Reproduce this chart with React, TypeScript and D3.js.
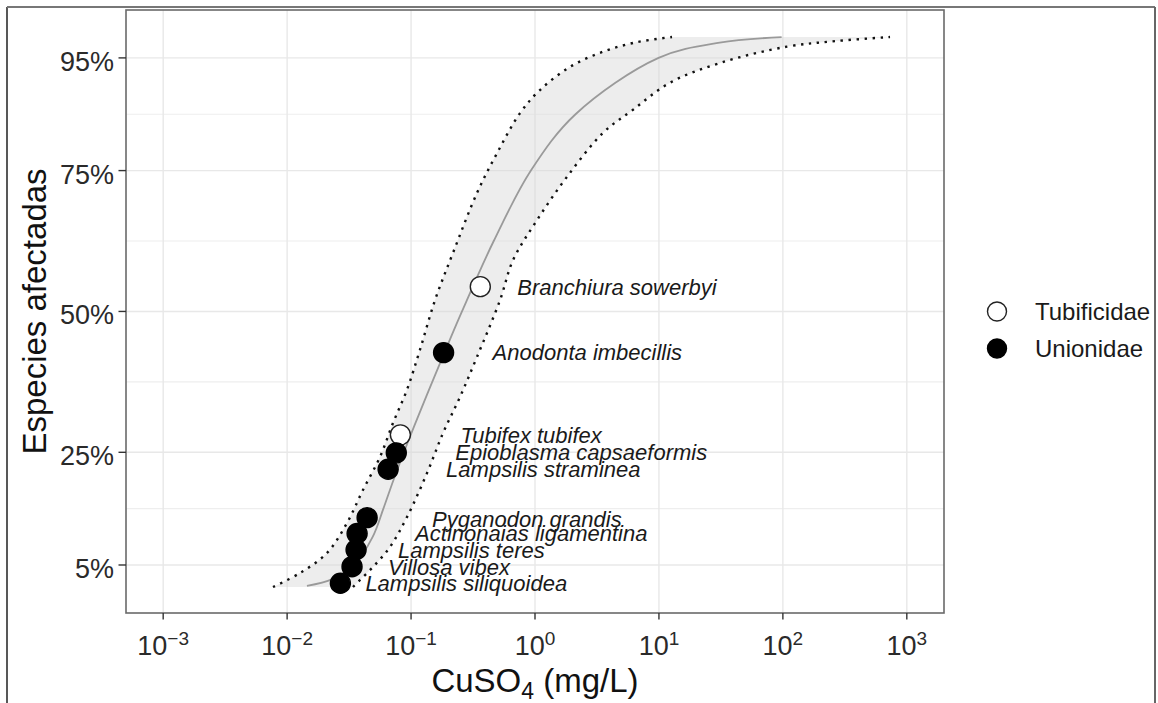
import * as d3 from "d3";

// species sensitivity points (mg/L CuSO4, % of species affected)
const species = [
  "Branchiura sowerbyi",
  "Anodonta imbecillis",
  "Tubifex tubifex",
  "Epioblasma capsaeformis",
  "Lampsilis straminea",
  "Pyganodon grandis",
  "Actinonaias ligamentina",
  "Lampsilis teres",
  "Villosa vibex",
  "Lampsilis siliquoidea",
];
const family = [
  "Tubificidae", "Unionidae", "Tubificidae", "Unionidae", "Unionidae",
  "Unionidae", "Unionidae", "Unionidae", "Unionidae", "Unionidae",
];
const conc = [0.362, 0.183, 0.082, 0.076, 0.0653, 0.0442, 0.0367, 0.036, 0.0334, 0.0269];
const affected = [54.4, 42.7, 28.1, 24.9, 22.0, 13.4, 10.6, 7.7, 4.7, 1.75];

// label nudges (px from the point, to the text baseline start)
const labelDx = [37, 49, 60, 59, 58, 65, 58, 42, 36, 25];
const labelDy = [8, 7, 8, 7, 8, 9, 8, 8, 8, 8];

// fitted curve
const fitConc = [0.01445, 0.02317, 0.03467, 0.049, 0.0598, 0.0719, 0.0875, 0.1076, 0.1483, 0.2058, 0.2576, 0.4645, 0.9268, 2.123, 9.93, 30.9, 97.7];
const fitPct = [1.3, 2.5, 5, 10, 15, 20, 25, 30, 37.5, 45, 50, 62.5, 75, 85, 95, 97.7, 98.7];

// confidence band, left (upper) edge
const ciUpConc = [0.00769, 0.0127, 0.02098, 0.0304, 0.0409, 0.0562, 0.0715, 0.0927, 0.118, 0.156, 0.218, 0.34, 0.494, 0.757, 1.097, 1.916, 3.54, 6.65, 12.75];
const ciUpPct = [1.09, 3.58, 7.13, 12.46, 18.3, 24.2, 30.2, 36.1, 43.2, 52.0, 60.4, 71.0, 78.1, 85.2, 89.3, 93.4, 96.1, 97.8, 98.7];

// confidence band, right (lower) edge
const ciLoConc = [0.034, 0.0387, 0.0493, 0.0676, 0.0927, 0.1345, 0.181, 0.248, 0.34, 0.522, 0.665, 1.038, 1.813, 3.54, 6.18, 12.28, 31.1, 108, 273, 732];
const ciLoPct = [1.09, 2.34, 4.64, 8.2, 13.5, 21.3, 28.4, 34.8, 41.9, 52.0, 59.1, 66.2, 73.9, 81.7, 85.8, 90.6, 94.1, 97.0, 98.0, 98.7];

const yTicks = [5, 25, 50, 75, 95];
const yMinor = [15, 37.5, 62.5, 85];
const xExponents = [-3, -2, -1, 0, 1, 2, 3];
const legendItems = ["Tubificidae", "Unionidae"];

const FONT = "'Liberation Sans', Arial, Helvetica, sans-serif";

export default function App() {
  const W = 1158;
  const H = 703;
  const left = 126, right = 944, top = 10, bottom = 613;

  const x = d3.scaleLog().domain([10 ** -3.3, 10 ** 3.3]).range([left, right]);
  const y = d3.scaleLinear().domain([-3.52, 103.5]).range([bottom, top]);

  const line = d3
    .line<[number, number]>()
    .x((d) => x(d[0]))
    .y((d) => y(d[1]))
    .curve(d3.curveCatmullRom.alpha(0.5));

  const fit = fitConc.map((c, i) => [c, fitPct[i]] as [number, number]);
  const ciUp = ciUpConc.map((c, i) => [c, ciUpPct[i]] as [number, number]);
  const ciLo = ciLoConc.map((c, i) => [c, ciLoPct[i]] as [number, number]);

  const bandPath =
    (line(ciUp) ?? "") +
    (line([...ciLo].reverse()) ?? "").replace(/^M/, "L") +
    "Z";

  const isOpen = (f: string) => f === "Tubificidae";

  return (
    <div style={{ position: "fixed", left: 0, top: 0 }}>
      <svg width={W} height={H} style={{ display: "block", background: "#fff" }} fontFamily={FONT}>
        {/* outer frame */}
        <line x1={7} y1={7} x2={7} y2={H} stroke="#111" strokeWidth={1.4} />
        <line x1={7} y1={7} x2={1155} y2={7} stroke="#777" strokeWidth={2} />
        <line x1={1155} y1={7} x2={1155} y2={H} stroke="#666" strokeWidth={2} />

        {/* grid */}
        <g>
          {yMinor.map((t) => (
            <line key={"ym" + t} x1={left} x2={right} y1={y(t)} y2={y(t)} stroke="#eeeeee" strokeWidth={1.1} />
          ))}
          {yTicks.map((t) => (
            <line key={"y" + t} x1={left} x2={right} y1={y(t)} y2={y(t)} stroke="#e8e8e8" strokeWidth={1.4} />
          ))}
          {xExponents.map((e) => (
            <line key={"x" + e} x1={x(10 ** e)} x2={x(10 ** e)} y1={top} y2={bottom} stroke="#e8e8e8" strokeWidth={1.4} />
          ))}
        </g>

        {/* confidence band */}
        <path d={bandPath} fill="#d6d6d6" fillOpacity={0.45} stroke="none" />
        <path d={line(ciUp) ?? ""} fill="none" stroke="#111" strokeWidth={2.4} strokeDasharray="2.4 5.6" />
        <path d={line(ciLo) ?? ""} fill="none" stroke="#111" strokeWidth={2.4} strokeDasharray="2.4 5.6" />

        {/* fitted curve */}
        <path d={line(fit) ?? ""} fill="none" stroke="#9a9a9a" strokeWidth={1.8} />

        {/* points */}
        {conc.map((c, i) => (
          <circle
            key={species[i]}
            cx={x(c)}
            cy={y(affected[i])}
            r={10}
            fill={isOpen(family[i]) ? "#fff" : "#000"}
            stroke={isOpen(family[i]) ? "#222" : "#000"}
            strokeWidth={1.4}
          />
        ))}

        {/* species labels */}
        {conc.map((c, i) => (
          <text
            key={"l" + species[i]}
            x={x(c) + labelDx[i]}
            y={y(affected[i]) + labelDy[i]}
            fontSize={22}
            fontStyle="italic"
            fill="#1a1a1a"
          >
            {species[i]}
          </text>
        ))}

        {/* panel border */}
        <rect x={left} y={top} width={right - left} height={bottom - top} fill="none" stroke="#6a6a6a" strokeWidth={1.6} />

        {/* y axis */}
        {yTicks.map((t) => (
          <g key={"yt" + t}>
            <line x1={left - 7.5} x2={left} y1={y(t)} y2={y(t)} stroke="#333" strokeWidth={1.4} />
            <text x={left - 12} y={y(t) + 13} textAnchor="end" fontSize={27} fill="#2a2a2a">
              {t}%
            </text>
          </g>
        ))}

        {/* x axis */}
        {xExponents.map((e) => (
          <g key={"xt" + e}>
            <line x1={x(10 ** e)} x2={x(10 ** e)} y1={bottom} y2={bottom + 6.5} stroke="#333" strokeWidth={1.4} />
            <text x={x(10 ** e)} y={655} textAnchor="middle" fontSize={27} fill="#2a2a2a">
              <tspan>10</tspan>
              <tspan dy={-10} fontSize={19}>
                {e < 0 ? "\u2212" + Math.abs(e) : String(e)}
              </tspan>
            </text>
          </g>
        ))}

        {/* axis titles */}
        <text x={(left + right) / 2} y={692} textAnchor="middle" fontSize={33} fill="#111">
          <tspan>CuSO</tspan>
          <tspan dy={7} fontSize={23}>4</tspan>
          <tspan dy={-7}> (mg/L)</tspan>
        </text>
        <text
          transform={`translate(46,${(top + bottom) / 2}) rotate(-90)`}
          textAnchor="middle"
          fontSize={33}
          fill="#111"
        >
          Especies afectadas
        </text>

        {/* legend */}
        {legendItems.map((name, i) => (
          <g key={name} transform={`translate(997,${311.5 + i * 37})`}>
            <circle
              r={9.5}
              fill={isOpen(name) ? "#fff" : "#000"}
              stroke={isOpen(name) ? "#222" : "#000"}
              strokeWidth={1.4}
            />
            <text x={38} y={8} fontSize={24} fill="#1a1a1a">
              {name}
            </text>
          </g>
        ))}
      </svg>
    </div>
  );
}
